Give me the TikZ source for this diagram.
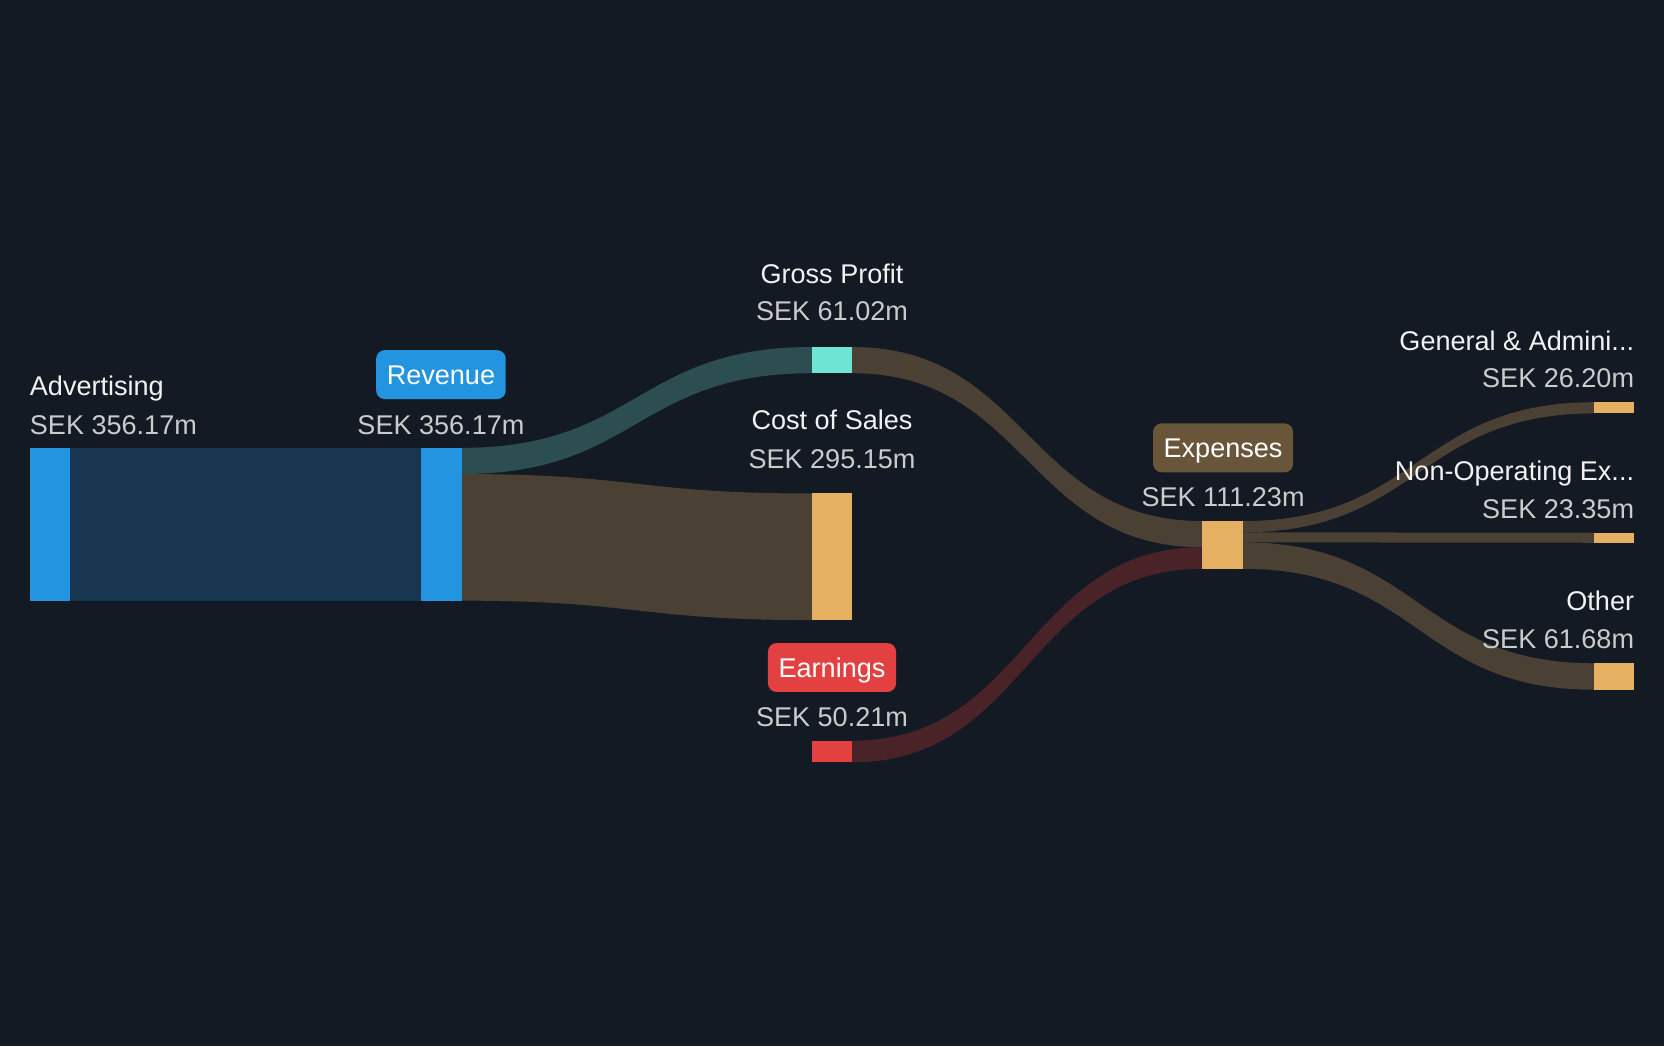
\documentclass[tikz,border=0pt]{standalone}
\usepackage{fontspec}
\setmainfont{Liberation Sans}
\usetikzlibrary{calc}
\definecolor{bg}{HTML}{141A24}
\definecolor{cblue}{HTML}{2394E0}
\definecolor{fblue}{HTML}{18364F}
\definecolor{fteal}{HTML}{2C4E50}
\definecolor{ccyan}{HTML}{6CE5D4}
\definecolor{fbrown}{HTML}{4A4033}
\definecolor{cgold}{HTML}{E6B062}
\definecolor{cred}{HTML}{E34141}
\definecolor{fred}{HTML}{4A2329}
\definecolor{cexp}{HTML}{695539}
\definecolor{tname}{HTML}{F2F2F2}
\definecolor{tval}{HTML}{CBCBCB}
\newcommand{\sankeyflow}[5]{%
  \fill[#5] let \p1=(#1), \p2=(#2), \p3=(#3), \p4=(#4), \n1={(\x1+\x3)/2} in
    (\p1) .. controls (\n1,\y1) and (\n1,\y3) .. (\p3) -- (\p4)
    .. controls (\n1,\y4) and (\n1,\y2) .. (\p2) -- cycle;}
\begin{document}
\begin{tikzpicture}[x=1pt,y=-1pt,
  bar/.style={inner sep=0pt, outer sep=0pt, minimum width=38pt, anchor=north west, draw=none},
  nm/.style={text=tname, inner sep=0pt, font=\fontsize{25.5}{30}\selectfont},
  vl/.style={text=tval, inner sep=0pt, font=\fontsize{25.5}{30}\selectfont},
  pill/.style={text=white, rounded corners=8pt, inner xsep=10pt, inner ysep=0pt,
    minimum height=46pt, text height=18.5pt, text depth=0pt, font=\fontsize{25.5}{30}\selectfont}]
\fill[bg] (0,0) rectangle (1568,986);
\useasboundingbox (0,0) rectangle (1568,986);

% bars
\node[bar, fill=cblue, minimum height=144pt] (adv) at (28,422) {};
\node[bar, fill=cblue, minimum height=144pt] (rev) at (397,422) {};
\node[bar, fill=ccyan, minimum height=24.67pt] (gp) at (765,327) {};
\node[bar, fill=cgold, minimum height=119.33pt] (cos) at (765,465) {};
\node[bar, fill=cred, minimum height=20.3pt] (earn) at (765,698) {};
\node[bar, fill=cgold, minimum height=44.97pt] (exp) at (1133,491) {};
\node[bar, fill=cgold, minimum height=10.59pt] (ga) at (1502,379) {};
\node[bar, fill=cgold, minimum height=9.44pt] (nonop) at (1502,502) {};
\node[bar, fill=cgold, minimum height=24.94pt] (oth) at (1502,625) {};

% flow attachment points
\coordinate (revA) at ($(rev.north east)+(0,24.67)$);
\coordinate (expA) at ($(exp.north west)+(0,24.67)$);
\coordinate (expB) at ($(exp.north east)+(0,10.59)$);
\coordinate (expC) at ($(exp.north east)+(0,20.03)$);

% flows
\fill[fblue] (adv.north east) rectangle (rev.south west);
\sankeyflow{rev.north east}{revA}{gp.north west}{gp.south west}{fteal}
\sankeyflow{revA}{rev.south east}{cos.north west}{cos.south west}{fbrown}
\sankeyflow{gp.north east}{gp.south east}{exp.north west}{expA}{fbrown}
\sankeyflow{earn.north east}{earn.south east}{expA}{exp.south west}{fred}
\sankeyflow{exp.north east}{expB}{ga.north west}{ga.south west}{fbrown}
\sankeyflow{expB}{expC}{nonop.north west}{nonop.south west}{fbrown}
\sankeyflow{expC}{exp.south east}{oth.north west}{oth.south west}{fbrown}

% redraw bars on top
\fill[cblue] (adv.north west) rectangle (adv.south east);
\fill[cblue] (rev.north west) rectangle (rev.south east);
\fill[ccyan] (gp.north west) rectangle (gp.south east);
\fill[cgold] (cos.north west) rectangle (cos.south east);
\fill[cred] (earn.north west) rectangle (earn.south east);
\fill[cgold] (exp.north west) rectangle (exp.south east);
\fill[cgold] (ga.north west) rectangle (ga.south east);
\fill[cgold] (nonop.north west) rectangle (nonop.south east);
\fill[cgold] (oth.north west) rectangle (oth.south east);

% labels
\node[nm, anchor=base west] (advn) at (28,373) {Advertising};
\node[vl, anchor=base west] (advv) at (28,409) {SEK 356.17m};
\node[pill, fill=cblue] (revn) at (415.5,353) {Revenue};
\node[vl, anchor=base] (revv) at (415.5,409) {SEK 356.17m};
\node[nm, anchor=base] (gpn) at (784,267) {Gross Profit};
\node[vl, anchor=base] (gpv) at (784,302) {SEK 61.02m};
\node[nm, anchor=base] (cosn) at (784,405) {Cost of Sales};
\node[vl, anchor=base] (cosv) at (784,441) {SEK 295.15m};
\node[pill, fill=cred] (earnn) at (784,629) {Earnings};
\node[vl, anchor=base] (earnv) at (784,685) {SEK 50.21m};
\node[pill, fill=cexp] (expn) at (1152.5,422) {Expenses};
\node[vl, anchor=base] (expv) at (1152.5,477) {SEK 111.23m};
\node[nm, anchor=base east] (gan) at (1540,330) {General \& Admini...};
\node[vl, anchor=base east] (gav) at (1540,365) {SEK 26.20m};
\node[nm, anchor=base east] (nonopn) at (1540,453) {Non-Operating Ex...};
\node[vl, anchor=base east] (nonopv) at (1540,489) {SEK 23.35m};
\node[nm, anchor=base east] (othn) at (1540,575) {Other};
\node[vl, anchor=base east] (othv) at (1540,611) {SEK 61.68m};
\end{tikzpicture}
\end{document}
